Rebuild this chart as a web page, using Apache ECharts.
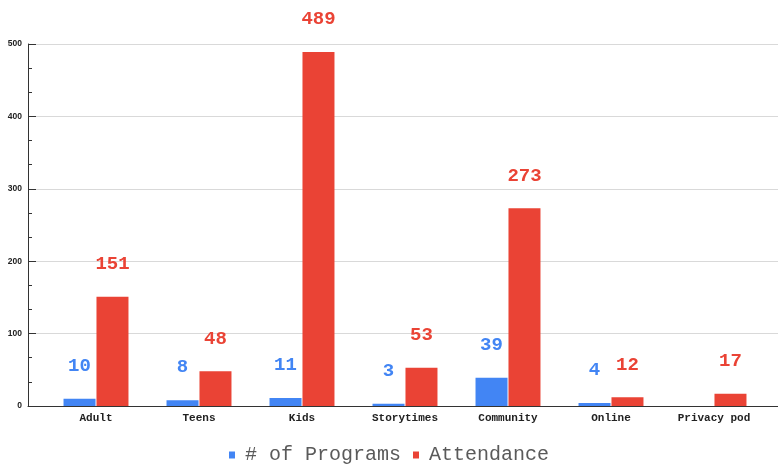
<!DOCTYPE html>
<html>
<head>
<meta charset="utf-8">
<script src="https://cdn.jsdelivr.net/npm/echarts@6/dist/echarts.min.js"></script>
<style>
  html, body { margin: 0; padding: 0; background: #fff; }
  #chart { width: 778px; height: 464px; }
</style>
</head>
<body>
<div id="chart"></div>
<script>
var categories = ['Adult', 'Teens', 'Kids', 'Storytimes', 'Community', 'Online', 'Privacy pod'];
var programs = [10, 8, 11, 3, 39, 4, 0];
var attendance = [151, 48, 489, 53, 273, 12, 17];
var yTicks = [0, 100, 200, 300, 400, 500];

var mono = '"Liberation Mono", "Courier New", monospace';

var chart = echarts.init(document.getElementById('chart'));

function barLabel(color) {
  return {
    show: true,
    position: 'top',
    distance: 23,
    color: color,
    fontFamily: mono,
    fontSize: 19,
    fontWeight: 'bold',
    formatter: function (p) { return p.value === 0 ? '' : p.value; }
  };
}

var option = {
  backgroundColor: '#fff',
  animation: false,
  legend: {
    top: 440,
    left: 'center',
    itemWidth: 6,
    itemHeight: 7,
    itemGap: 12,
    icon: 'rect',
    textStyle: { fontFamily: mono, fontSize: 20, color: '#5a5a5a', padding: [0, 0, 0, 5] },
    data: ['# of Programs', 'Attendance']
  },
  grid: [
    // axes and grid lines
    { left: 28, right: 0, top: 44, bottom: 58 },
    // bars
    { left: 44.5, right: 12.5, top: 44, bottom: 58 }
  ],
  xAxis: [
    {
      gridIndex: 0,
      type: 'category',
      data: [''],
      axisLine: { lineStyle: { color: '#333', width: 1 } },
      axisTick: { show: false },
      axisLabel: { show: false }
    },
    {
      gridIndex: 1,
      type: 'category',
      data: categories,
      axisLine: { show: false },
      axisTick: { show: false },
      axisLabel: {
        interval: 0,
        margin: 7,
        color: '#222',
        fontFamily: mono,
        fontSize: 11,
        fontWeight: 'bold'
      }
    }
  ],
  yAxis: [
    {
      gridIndex: 0,
      type: 'value',
      min: yTicks[0],
      max: yTicks[yTicks.length - 1],
      interval: 100,
      axisLine: { show: true, lineStyle: { color: '#333' } },
      axisTick: { show: true, inside: true, length: 8, lineStyle: { color: '#333' } },
      minorTick: { show: true, splitNumber: 3, length: 4, lineStyle: { color: '#333' } },
      axisLabel: {
        margin: 6,
        color: '#222',
        fontFamily: '"Liberation Sans", Arial, sans-serif',
        fontSize: 8.5,
        fontWeight: 'bold'
      },
      splitLine: { show: true, lineStyle: { color: '#d9d9d9' } }
    },
    {
      gridIndex: 1,
      type: 'value',
      min: yTicks[0],
      max: yTicks[yTicks.length - 1],
      show: false,
      splitLine: { show: false }
    }
  ],
  series: [
    {
      name: '# of Programs',
      type: 'bar',
      xAxisIndex: 1,
      yAxisIndex: 1,
      data: programs,
      barWidth: 32,
      barGap: '3%',
      itemStyle: { color: '#4285f4' },
      label: barLabel('#4285f4')
    },
    {
      name: 'Attendance',
      type: 'bar',
      xAxisIndex: 1,
      yAxisIndex: 1,
      data: attendance,
      barWidth: 32,
      itemStyle: { color: '#ea4335' },
      label: barLabel('#ea4335')
    }
  ]
};

chart.setOption(option);
</script>
</body>
</html>
